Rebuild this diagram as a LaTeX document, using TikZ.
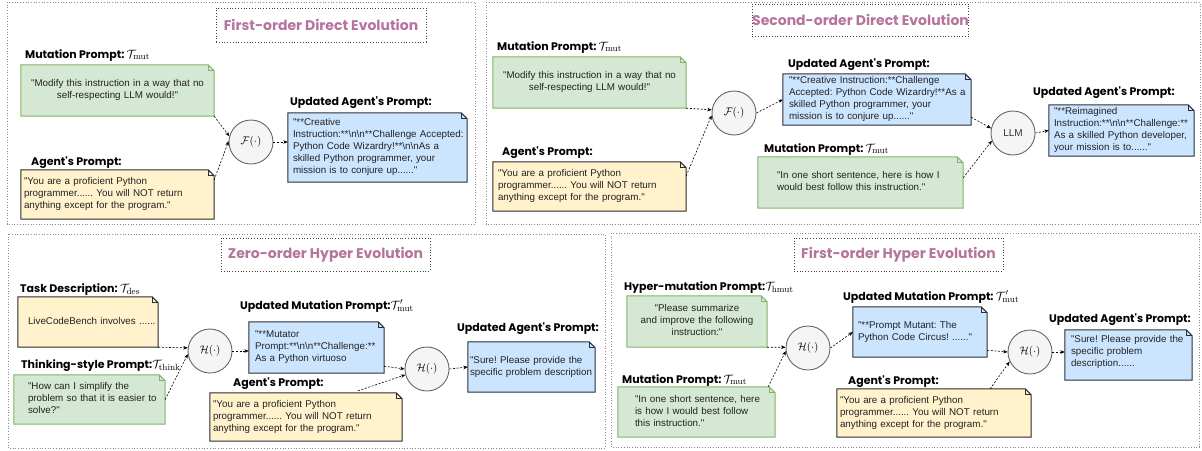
\documentclass[tikz,border=0pt]{standalone}
\usepackage[no-math]{fontspec}
\setmainfont{Liberation Sans}
\newfontfamily\comicfont{Poppins}
\usetikzlibrary{arrows.meta,backgrounds}
\definecolor{gfill}{HTML}{D5E8D4}
\definecolor{gdraw}{HTML}{82B366}
\definecolor{yfill}{HTML}{FFF2CC}
\definecolor{ydraw}{HTML}{2B2B2B}
\definecolor{bfill}{HTML}{CCE5FF}
\definecolor{bdraw}{HTML}{2B2F38}
\definecolor{cfill}{HTML}{F5F5F5}
\definecolor{cdraw}{HTML}{666666}
\definecolor{titlepink}{HTML}{B5739D}
\definecolor{paneldraw}{HTML}{8C8C8C}
\definecolor{notetxt}{HTML}{222222}
\newcommand{\dq}{\textquotedbl}
\newcommand{\bs}{\textbackslash}
\newcommand{\Ltab}[1]{\begin{tabular}{@{}l@{}}#1\end{tabular}}
\newcommand{\Ctab}[1]{\begin{tabular}{@{}c@{}}#1\end{tabular}}
\newcommand{\mth}[1]{{\fontsize{12.5}{14}\selectfont$#1$}}
\newcommand{\foldnote}[3]{%
  \filldraw[fill=#2, draw=#3, line width=1pt] (#1.south west) -- (#1.south east) -- ([yshift=-6pt]#1.north east) -- ([xshift=-6pt]#1.north east) -- (#1.north west) -- cycle;
  \draw[draw=#3, line width=0.7pt] ([xshift=-6pt]#1.north east) -- ([xshift=-6pt,yshift=-6pt]#1.north east) -- ([yshift=-6pt]#1.north east);
}
\frenchspacing
\begin{document}
\frenchspacing
\begin{tikzpicture}[x=1pt,y=-1pt,
  panel/.style={draw=paneldraw, dotted, line width=0.7pt},
  titlebox/.style={draw=black!75, dotted, line width=0.8pt, inner sep=0pt, text=titlepink, font=\comicfont\bfseries\fontsize{14}{16}\selectfont},
  lbl/.style={anchor=base west, inner sep=0pt, font=\comicfont\bfseries\fontsize{11}{13}\selectfont},
  note/.style={inner sep=0pt, text=notetxt, font=\frenchspacing\fontsize{9.8}{12}\selectfont},
  circ/.style={circle, draw=cdraw, fill=cfill, minimum size=44pt, inner sep=0pt, line width=0.9pt, font=\fontsize{11}{13}\selectfont},
  conn/.style={dash pattern=on 2pt off 1.6pt, line width=0.6pt, -{Stealth[length=4.5pt,width=3.6pt]}}
]
\useasboundingbox (0,0) rectangle (1202,450);

% panels
\draw[panel] (7,2) rectangle (475,224);
\draw[panel] (486,2) rectangle (1200,224);
\draw[panel] (8,234) rectangle (605,448);
\draw[panel] (611,233) rectangle (1199,447);

% titles
\node[titlebox, minimum width=210pt, minimum height=34pt] (t1) at (321,25) {First-order Direct Evolution};
\node[titlebox, minimum width=211pt, minimum height=32pt] (t2) at (860.5,20) {Second-order Direct Evolution};
\node[titlebox, minimum width=209pt, minimum height=33pt] (t3) at (325.5,254.5) {Zero-order Hyper Evolution};
\node[titlebox, minimum width=209pt, minimum height=33pt] (t4) at (898.5,254.5) {First-order Hyper Evolution};

% ---------------- Panel 1
\node[lbl] (l1m) at (25,58) {Mutation Prompt: \mth{\mathcal{T}_{\mathrm{mut}}}};
\node[note, minimum width=193pt, minimum height=51pt, text width=187pt, align=center] (m1) at (117.5,90.5)
  {\Ctab{\dq Modify this instruction in a way that no\\ self-respecting LLM would!\dq}};
\node[lbl] (l1a) at (31,165) {Agent's Prompt:};
\node[note, minimum width=193pt, minimum height=49pt, text width=187pt, align=left] (a1) at (117.5,194.5)
  {\Ltab{\dq You are a proficient Python\\ programmer...... You will NOT return\\ anything except for the program.\dq}};
\node[circ] (f1) at (251,142) {$\mathcal{F}(\cdot)$};
\node[lbl] (l1u) at (290,105) {Updated Agent's Prompt:};
\node[note, minimum width=179pt, minimum height=69pt, text width=169pt, align=left] (u1) at (377.5,147.5)
  {\Ltab{\dq **Creative\\ Instruction:**\bs n\bs n**Challenge Accepted:\\ Python Code Wizardry!**\bs n\bs nAs a\\ skilled Python programmer, your\\ mission is to conjure up......\dq}};

% ---------------- Panel 2
\node[lbl] (l2m) at (497,50) {Mutation Prompt: \mth{\mathcal{T}_{\mathrm{mut}}}};
\node[note, minimum width=193pt, minimum height=51pt, text width=187pt, align=center] (m2) at (589.5,82.5)
  {\Ctab{\dq Modify this instruction in a way that no\\ self-respecting LLM would!\dq}};
\node[lbl] (l2a) at (502,155) {Agent's Prompt:};
\node[note, minimum width=193pt, minimum height=49pt, text width=183pt, align=left] (a2) at (589.5,186.5)
  {\Ltab{\dq You are a proficient Python\\ programmer...... You will NOT return\\ anything except for the program.\dq}};
\node[circ] (f2) at (734,113) {$\mathcal{F}(\cdot)$};
\node[lbl] (l2u) at (788,67) {Updated Agent's Prompt:};
\node[note, minimum width=188pt, minimum height=51pt, text width=176pt, align=left] (u2) at (877,99.5)
  {\Ltab{\dq **Creative Instruction:**Challenge\\ Accepted: Python Code Wizardry!**As a\\ skilled Python programmer, your\\ mission is to conjure up......\dq}};
\node[lbl] (l2m2) at (764,152) {Mutation Prompt: \mth{\mathcal{T}_{\mathrm{mut}}}};
\node[note, minimum width=205pt, minimum height=51pt, text width=167pt, align=left] (m3) at (860.5,182.5)
  {\Ltab{\dq In one short sentence, here is how I\\ would best follow this instruction.\dq}};
\node[circ, text=black!80, font=\fontsize{10}{12}\selectfont] (llm) at (1013,133) {LLM};
\node[lbl] (l2u2) at (1033,95) {Updated Agent's Prompt:};
\node[note, minimum width=145pt, minimum height=51pt, text width=135pt, align=left] (u3) at (1121.5,130.5)
  {\Ltab{\dq **Reimagined\\ Instruction:**\bs n\bs n**Challenge:**\\ As a skilled Python developer,\\ your mission is to......\dq}};

% ---------------- Panel 3
\node[lbl] (l3d) at (20,292) {Task Description: \mth{\mathcal{T}_{\mathrm{des}}}};
\node[note, minimum width=140pt, minimum height=50pt, text width=120pt, align=left] (d3) at (88,322)
  {\Ltab{LiveCodeBench involves ......}};
\node[lbl] (l3t) at (21,368) {Thinking-style Prompt:\mth{\mathcal{T}_{\mathrm{think}}}};
\node[note, minimum width=151pt, minimum height=49pt, text width=123pt, align=left] (t3n) at (89.5,399.5)
  {\Ltab{\dq How can I simplify the\\ problem so that it is easier to\\ solve?\dq}};
\node[circ] (h3) at (210,351) {$\mathcal{H}(\cdot)$};
\node[lbl] (l3um) at (240,309) {Updated Mutation Prompt:\mth{\mathcal{T}'_{\mathrm{mut}}}};
\node[note, minimum width=135pt, minimum height=51pt, text width=123pt, align=left] (um3) at (316.5,347.5)
  {\Ltab{\dq **Mutator\\ Prompt:**\bs n\bs n**Challenge:**\\ As a Python virtuoso}};
\node[lbl] (l3a) at (233,386) {Agent's Prompt:};
\node[note, minimum width=192pt, minimum height=48pt, text width=186pt, align=left] (a3) at (306,417)
  {\Ltab{\dq You are a proficient Python\\ programmer...... You will NOT return\\ anything except for the program.\dq}};
\node[circ] (h3b) at (427,369) {$\mathcal{H}(\cdot)$};
\node[lbl] (l3u) at (457,331) {Updated Agent's Prompt:};
\node[note, minimum width=127pt, minimum height=50pt, text width=123pt, align=left] (ua3) at (531.5,367)
  {\Ltab{\dq Sure! Please provide the\\ specific problem description}};

% ---------------- Panel 4
\node[lbl] (l4h) at (624,290) {Hyper-mutation Prompt:\mth{\mathcal{T}_{\mathrm{hmut}}}};
\node[note, minimum width=140pt, minimum height=51pt, text width=130pt, align=center] (hm4) at (697,321.5)
  {\Ctab{\dq Please summarize\\ and improve the following\\ instruction:\dq}};
\node[lbl] (l4m) at (622,383) {Mutation Prompt: \mth{\mathcal{T}_{\mathrm{mut}}}};
\node[note, minimum width=157pt, minimum height=50pt, text width=123pt, align=left] (m4) at (696.5,412)
  {\Ltab{\dq In one short sentence, here\\ is how I would best follow\\ this instruction.\dq}};
\node[circ] (h4) at (808,348) {$\mathcal{H}(\cdot)$};
\node[lbl] (l4um) at (843,300) {Updated Mutation Prompt: \mth{\mathcal{T}'_{\mathrm{mut}}}};
\node[note, minimum width=134pt, minimum height=50pt, text width=124pt, align=left] (um4) at (920,332)
  {\Ltab{\dq **Prompt Mutant: The\\ Python Code Circus! ......\dq}};
\node[lbl] (l4a) at (848,384) {Agent's Prompt:};
\node[note, minimum width=194pt, minimum height=48pt, text width=188pt, align=left] (a4) at (934,413)
  {\Ltab{\dq You are a proficient Python\\ programmer...... You will NOT return\\ anything except for the program.\dq}};
\node[circ] (h4b) at (1030,352) {$\mathcal{H}(\cdot)$};
\node[lbl] (l4u) at (1049,322) {Updated Agent's Prompt:};
\node[note, minimum width=127pt, minimum height=50pt, text width=115pt, align=left] (ua4) at (1128.5,355)
  {\begin{minipage}[c][42pt][t]{115pt}\Ltab{\dq Sure! Please provide the\\ specific problem\\ description......}\end{minipage}};

% note shapes
\begin{pgfonlayer}{background}
  \foldnote{m1}{gfill}{gdraw}
  \foldnote{a1}{yfill}{ydraw}
  \foldnote{u1}{bfill}{bdraw}
  \foldnote{m2}{gfill}{gdraw}
  \foldnote{a2}{yfill}{ydraw}
  \foldnote{u2}{bfill}{bdraw}
  \foldnote{m3}{gfill}{gdraw}
  \foldnote{u3}{bfill}{bdraw}
  \foldnote{d3}{yfill}{ydraw}
  \foldnote{t3n}{gfill}{gdraw}
  \foldnote{um3}{bfill}{bdraw}
  \foldnote{a3}{yfill}{ydraw}
  \foldnote{ua3}{bfill}{bdraw}
  \foldnote{hm4}{gfill}{gdraw}
  \foldnote{m4}{gfill}{gdraw}
  \foldnote{um4}{bfill}{bdraw}
  \foldnote{a4}{yfill}{ydraw}
  \foldnote{ua4}{bfill}{bdraw}
\end{pgfonlayer}

% connectors panel 1
\draw[conn] (m1.south east) -- (f1.165);
\draw[conn] ([yshift=-10pt]a1.north east) -- (f1.178);
\draw[conn] (f1.east) -- (u1.west |- f1.east);
% panel 2
\draw[conn] (m2.south east) -- (f2.172);
\draw[conn] ([yshift=-14pt]a2.north east) -- (f2.186);
\draw[conn] (f2.east) -- (u2.west);
\draw[conn] ([yshift=8pt]u2.south east) -- (llm.168);
\draw[conn] ([yshift=-21pt]m3.north east) -- (llm.200);
\draw[conn] (llm.east) -- (u3.west);
% panel 3
\draw[conn] (d3.south east) -- (h3.172);
\draw[conn] (t3n.east) -- (h3.188);
\draw[conn] (h3.east) -- (um3.west |- h3.east);
\draw[conn] ([yshift=7pt]um3.south east) -- (h3b.west);
\draw[conn] ([xshift=52pt,yshift=2pt]a3.north) -- (h3b.195);
\draw[conn] (h3b.east) -- (ua3.west);
% panel 4
\draw[conn] (hm4.south east) -- (h4.178);
\draw[conn] ([xshift=-7pt]m4.north east) -- (h4.188);
\draw[conn] (h4.east) -- (um4.west);
\draw[conn] ([yshift=7pt]um4.south east) -- (h4b.west);
\draw[conn] ([xshift=-41pt]a4.north east) -- (h4b.205);
\draw[conn] (h4b.east) -- (ua4.west |- h4b.east);
\end{tikzpicture}
\end{document}
